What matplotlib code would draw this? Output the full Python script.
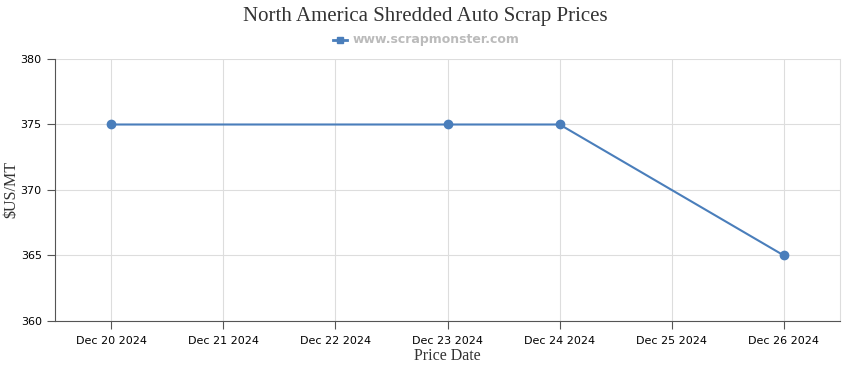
import matplotlib
matplotlib.use("Agg")
import matplotlib.pyplot as plt
import matplotlib.dates as mdates
from datetime import datetime, timedelta

# price points (dates with a reported price)
dates = ["2024-12-20", "2024-12-23", "2024-12-24", "2024-12-26"]
prices = [375, 375, 375, 365]
tick_dates = ["2024-12-20", "2024-12-21", "2024-12-22", "2024-12-23",
              "2024-12-24", "2024-12-25", "2024-12-26"]
y_ticks = [360, 365, 370, 375, 380]

x = [datetime.strptime(d, "%Y-%m-%d") for d in dates]
xt = [datetime.strptime(d, "%Y-%m-%d") for d in tick_dates]

line_color = "#4a7ebb"

fig = plt.figure(figsize=(8.5, 3.7), dpi=100)
ax = fig.add_axes([55 / 850, 49 / 370, 785 / 850, 262 / 370])

ax.plot(x, prices, color=line_color, lw=1.5, marker="o", ms=6, zorder=3)

ax.set_xlim(xt[0] - timedelta(hours=12), xt[-1] + timedelta(hours=12))
ax.set_ylim(360, 380)
ax.set_xticks(xt)
ax.xaxis.set_major_formatter(mdates.DateFormatter("%b %d %Y"))
ax.set_yticks(y_ticks)

ax.grid(True, color="#dddddd", lw=0.8)
ax.set_axisbelow(True)
ax.spines["top"].set_visible(False)
ax.spines["right"].set_color("#dddddd")
ax.spines["left"].set_color("#555555")
ax.spines["bottom"].set_color("#555555")
ax.tick_params(axis="both", colors="#555555", labelcolor="black", labelsize=8, length=6)
ax.tick_params(axis="x", pad=5)

ax.set_xlabel("Price Date", family="Liberation Serif", fontsize=11.5, color="#333333", labelpad=1)
ax.set_ylabel("$US/MT", family="Liberation Serif", fontsize=11.5, color="#333333", va="center")
ax.yaxis.set_label_coords(-44 / 785, 0.5)

fig.text(0.5, 1 - 17 / 370, "North America Shredded Auto Scrap Prices", ha="center", va="center",
         family="Liberation Serif", fontsize=15, color="#333333")
fig.text(436 / 850, 1 - 40 / 370, "www.scrapmonster.com", ha="center", va="center",
         fontsize=9, fontweight="bold", color="#bbbbbb")
ly = 1 - 40 / 370
fig.lines.append(plt.Line2D([333 / 850, 347 / 850], [ly, ly], transform=fig.transFigure,
                            color=line_color, lw=2))
fig.lines.append(plt.Line2D([340 / 850], [ly], transform=fig.transFigure,
                            color=line_color, marker="s", ms=4.5))

fig.savefig("out.png", dpi=100)
